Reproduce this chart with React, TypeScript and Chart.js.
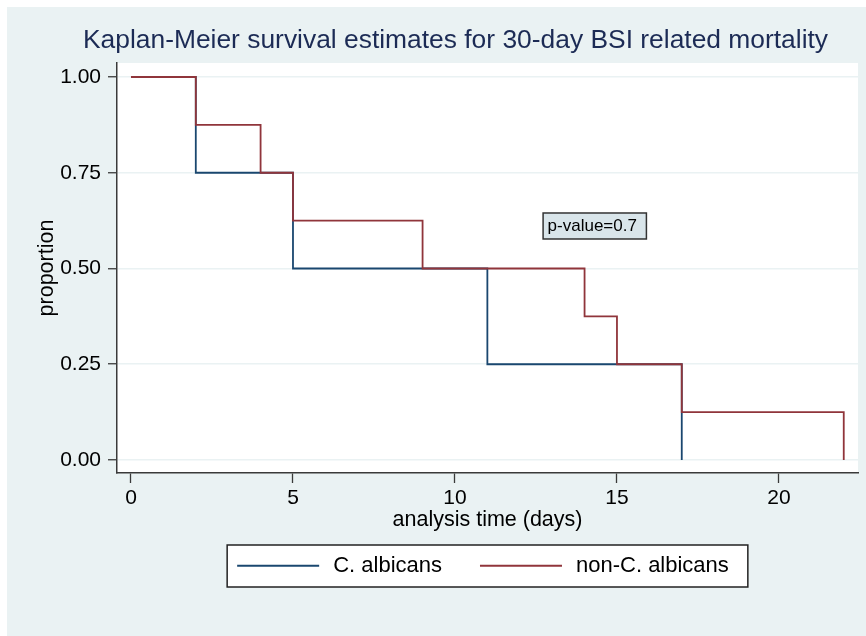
import { useEffect, useRef } from "react";
import { Chart, registerables } from "chart.js";

Chart.register(...registerables);

const titleText = "Kaplan-Meier survival estimates for 30-day BSI related mortality";
const xAxisTitle = "analysis time (days)";
const yAxisTitle = "proportion";
const seriesLabels = ["C. albicans", "non-C. albicans"];
const albicansTimes = [0, 2, 5, 11, 17];
const albicansSurvival = [1, 0.75, 0.5, 0.25, 0];
const nonAlbicansTimes = [0, 2, 4, 5, 9, 14, 15, 17, 22];
const nonAlbicansSurvival = [1, 0.875, 0.75, 0.625, 0.5, 0.375, 0.25, 0.125, 0];
const xTicks = [0, 5, 10, 15, 20];
const yTicks = [0, 0.25, 0.5, 0.75, 1];
const pValueText = "p-value=0.7";
const pValueAt = { x: 12.72, y: 0.611 };

const FONT = "'Liberation Sans', Arial, Helvetica, sans-serif";
const BG = "#eaf2f3";
const GRID = "#eaf2f3";
const AXIS = "#3a3a3a";
const BLUE = "#1a476f";
const RED = "#90353b";
const TITLE_COLOR = "#1c2b55";

const decorPlugin = {
  id: "decor",
  beforeDraw(chart: any) {
    const { ctx, width, height, chartArea: a } = chart;
    ctx.save();
    ctx.fillStyle = BG;
    ctx.fillRect(0, 0, width, height);
    ctx.fillStyle = "#ffffff";
    ctx.fillRect(a.left, a.top, a.right - a.left, a.bottom - a.top);
    ctx.restore();
  },
  afterDraw(chart: any) {
    const { ctx, chartArea: a, scales } = chart;
    ctx.save();
    // title
    ctx.font = `26.4px ${FONT}`;
    ctx.fillStyle = TITLE_COLOR;
    ctx.textAlign = "center";
    ctx.textBaseline = "alphabetic";
    ctx.fillText(titleText, 448.5, 40.9);

    // p-value annotation box
    ctx.font = `17px ${FONT}`;
    const tw = ctx.measureText(pValueText).width;
    const bx = scales.x.getPixelForValue(pValueAt.x);
    const by = scales.y.getPixelForValue(pValueAt.y);
    const bw = tw + 14;
    const bh = 26;
    ctx.fillStyle = "#d9e5ea";
    ctx.fillRect(bx, by - bh / 2, bw, bh);
    ctx.strokeStyle = "#333333";
    ctx.lineWidth = 1.5;
    ctx.strokeRect(bx, by - bh / 2, bw, bh);
    ctx.fillStyle = "#000000";
    ctx.textAlign = "left";
    ctx.textBaseline = "middle";
    ctx.fillText(pValueText, bx + 4.5, by + 0.5);

    // legend
    ctx.font = `22px ${FONT}`;
    const ds = chart.data.datasets;
    const lineLen = 82;
    const gapLT = 14;
    const gapItems = 38;
    const padL = 10;
    const padR = 19;
    const widths = ds.map((d: any) => ctx.measureText(d.label).width);
    let total = padL;
    widths.forEach((w: number, i: number) => {
      total += lineLen + gapLT + w + (i < widths.length - 1 ? gapItems : 0);
    });
    total += padR;
    const cx = (a.left + a.right) / 2;
    const left = cx - total / 2;
    const top = a.bottom + 72;
    const h = 42;
    ctx.fillStyle = "#ffffff";
    ctx.fillRect(left, top, total, h);
    ctx.strokeStyle = "#222222";
    ctx.lineWidth = 1.5;
    ctx.strokeRect(left, top, total, h);
    const ly = top + h / 2 - 0.3;
    let x = left + padL;
    ds.forEach((d: any, i: number) => {
      ctx.strokeStyle = d.borderColor;
      ctx.lineWidth = 2;
      ctx.beginPath();
      ctx.moveTo(x, ly);
      ctx.lineTo(x + lineLen, ly);
      ctx.stroke();
      x += lineLen + gapLT;
      ctx.fillStyle = "#000000";
      ctx.textAlign = "left";
      ctx.textBaseline = "middle";
      ctx.fillText(d.label, x, ly + 0.5);
      x += widths[i] + gapItems;
    });
    ctx.restore();
  },
};

export default function App() {
  const ref = useRef<HTMLCanvasElement | null>(null);

  useEffect(() => {
    if (!ref.current) return;
    Chart.defaults.font.family = FONT;
    const chart = new Chart(ref.current, {
      type: "line",
      data: {
        datasets: [
          {
            label: seriesLabels[0],
            data: albicansTimes.map((t, i) => ({ x: t, y: albicansSurvival[i] })),
            borderColor: BLUE,
            backgroundColor: BLUE,
            borderWidth: 1.8,
            stepped: "before",
            pointRadius: 0,
            fill: false,
            order: 2,
          },
          {
            label: seriesLabels[1],
            data: nonAlbicansTimes.map((t, i) => ({ x: t, y: nonAlbicansSurvival[i] })),
            borderColor: RED,
            backgroundColor: RED,
            borderWidth: 1.8,
            stepped: "before",
            pointRadius: 0,
            fill: false,
            order: 1,
          },
        ],
      },
      options: {
        animation: false,
        responsive: false,
        devicePixelRatio: 1,
        layout: { padding: { left: 0, right: 8, top: 56, bottom: 101 } },
        plugins: {
          legend: { display: false },
          title: { display: false },
          tooltip: { enabled: false },
        },
        scales: {
          x: {
            type: "linear",
            min: -0.432,
            max: 22.44,
            afterBuildTicks: (s: any) => {
              s.ticks = xTicks.map((v) => ({ value: v }));
            },
            afterFit: (s: any) => {
              s.height = 62;
            },
            grid: {
              drawOnChartArea: false,
              drawTicks: true,
              tickLength: 10,
              tickColor: AXIS,
              tickWidth: 1.3,
            },
            border: { display: true, color: AXIS, width: 1.5 },
            ticks: {
              color: "#000000",
              font: { size: 21 },
              padding: 3,
              maxRotation: 0,
              autoSkip: false,
            },
            title: {
              display: true,
              text: xAxisTitle,
              color: "#000000",
              font: { size: 21.5 },
              padding: { top: 0, bottom: 2 },
            },
          },
          y: {
            type: "linear",
            min: -0.034,
            max: 1.0366,
            afterBuildTicks: (s: any) => {
              s.ticks = yTicks.map((v) => ({ value: v }));
            },
            afterFit: (s: any) => {
              s.width = 110;
            },
            grid: {
              color: GRID,
              lineWidth: 1.5,
              drawTicks: true,
              tickLength: 9,
              tickColor: AXIS,
              tickWidth: 1.3,
            },
            border: { display: true, color: AXIS, width: 1.5 },
            ticks: {
              color: "#000000",
              font: { size: 21 },
              padding: 7,
              callback: (v: any) => Number(v).toFixed(2),
            },
            title: {
              display: true,
              text: yAxisTitle,
              color: "#000000",
              font: { size: 21.5 },
              padding: { top: 27, bottom: 0 },
            },
          },
        },
      },
      plugins: [decorPlugin],
    });
    return () => chart.destroy();
  }, []);

  return (
    <div style={{ position: "absolute", left: 7, top: 7, width: 859, height: 629 }}>
      <canvas ref={ref} width={859} height={629} style={{ display: "block", width: 859, height: 629 }} />
    </div>
  );
}
